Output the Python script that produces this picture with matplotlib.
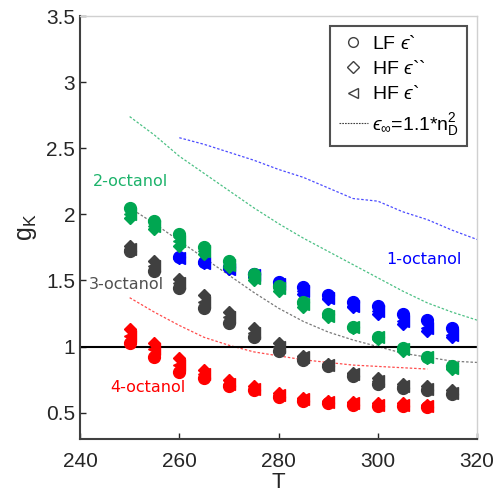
import numpy as np
import matplotlib
matplotlib.use('Agg')
from matplotlib import pyplot as plt
from matplotlib.lines import Line2D

plt.rcParams['font.family'] = ['Liberation Sans', 'DejaVu Sans']
plt.rcParams['mathtext.fontset'] = 'custom'
plt.rcParams['mathtext.rm'] = 'Liberation Sans'
plt.rcParams['mathtext.it'] = 'Liberation Sans:italic'
plt.rcParams['mathtext.fallback'] = 'stixsans'

# temperatures
T_all = [250, 255, 260, 265, 270, 275, 280, 285, 290, 295, 300, 305, 310, 315]
T_1 = T_all[2:]
T_4 = T_all[:13]

# 1-octanol
lf_1 = [1.68, 1.64, 1.60, 1.55, 1.49, 1.45, 1.39, 1.34, 1.31, 1.25, 1.20, 1.14]
hfpp_1 = [1.67, 1.63, 1.59, 1.53, 1.46, 1.40, 1.36, 1.30, 1.25, 1.17, 1.12, 1.07]
hfp_1 = [1.67, 1.63, 1.59, 1.54, 1.47, 1.42, 1.37, 1.31, 1.27, 1.19, 1.14, 1.09]

# 2-octanol
lf_2 = [2.05, 1.95, 1.85, 1.75, 1.65, 1.55, 1.46, 1.34, 1.25, 1.15, 1.07, 0.99, 0.92, 0.85]
hfpp_2 = [1.97, 1.89, 1.76, 1.70, 1.60, 1.50, 1.42, 1.30, 1.22, 1.14, 1.06, 0.97, 0.91, 0.83]
hfp_2 = [2.00, 1.91, 1.80, 1.72, 1.62, 1.52, 1.44, 1.32, 1.23, 1.15, 1.07, 0.98, 0.92, 0.84]

# 3-octanol
lf_3 = [1.72, 1.57, 1.44, 1.29, 1.18, 1.07, 0.97, 0.90, 0.85, 0.78, 0.72, 0.69, 0.67, 0.64]
hfpp_3 = [1.76, 1.65, 1.51, 1.39, 1.26, 1.14, 1.03, 0.93, 0.87, 0.80, 0.76, 0.72, 0.70, 0.67]
hfp_3 = [1.74, 1.61, 1.48, 1.34, 1.22, 1.10, 1.00, 0.92, 0.86, 0.79, 0.74, 0.70, 0.68, 0.65]

# 4-octanol
lf_4 = [1.03, 0.92, 0.81, 0.76, 0.70, 0.67, 0.62, 0.59, 0.57, 0.56, 0.55, 0.55, 0.54]
hfpp_4 = [1.13, 1.03, 0.91, 0.82, 0.75, 0.70, 0.65, 0.61, 0.59, 0.58, 0.57, 0.57, 0.56]
hfp_4 = [1.08, 0.98, 0.86, 0.79, 0.72, 0.68, 0.63, 0.60, 0.58, 0.57, 0.56, 0.56, 0.55]

# eps_inf = 1.1*nD^2 model curves
T_m1 = [260, 265, 270, 275, 280, 285, 290, 295, 300, 305, 310, 315, 320]
m_1 = [2.58, 2.53, 2.47, 2.41, 2.34, 2.28, 2.20, 2.12, 2.10, 2.02, 1.96, 1.88, 1.81]
T_m = [250, 255, 260, 265, 270, 275, 280, 285, 290, 295, 300, 305, 310, 315, 320]
m_2 = [2.74, 2.60, 2.44, 2.31, 2.18, 2.05, 1.93, 1.82, 1.72, 1.62, 1.52, 1.42, 1.33, 1.26, 1.20]
m_3 = [2.05, 1.93, 1.80, 1.67, 1.54, 1.41, 1.29, 1.19, 1.11, 1.05, 1.00, 0.95, 0.92, 0.89, 0.88]
T_m4 = [250, 255, 260, 265, 270, 275, 280, 285, 290, 295, 300, 305, 310]
m_4 = [1.37, 1.26, 1.16, 1.07, 1.01, 0.96, 0.93, 0.90, 0.88, 0.86, 0.85, 0.84, 0.83]

c_blue = '#0000ff'
c_green = '#00a651'
c_gray = '#404040'
c_red = '#ff0000'

fig = plt.figure(figsize=(4.97, 5.03), dpi=100)
ax = fig.add_axes([0.161, 0.127, 0.799, 0.841])

# model lines
dash = (0, (2, 1.5))
ax.plot(T_m1, m_1, ls=dash, color=c_blue, lw=0.9, alpha=0.7)
ax.plot(T_m, m_2, ls=dash, color=c_green, lw=0.9, alpha=0.7)
ax.plot(T_m, m_3, ls=dash, color=c_gray, lw=0.9, alpha=0.7)
ax.plot(T_m4, m_4, ls=dash, color=c_red, lw=0.9, alpha=0.7)

ax.axhline(1, color='k', lw=1.5)

ms = 8.5
series = [
    (T_1, lf_1, hfpp_1, hfp_1, c_blue),
    (T_all, lf_2, hfpp_2, hfp_2, c_green),
    (T_all, lf_3, hfpp_3, hfp_3, c_gray),
    (T_4, lf_4, hfpp_4, hfp_4, c_red),
]
for t, lf, hpp, hp, c in series:
    ax.plot(t, lf, 'o', color=c, ms=ms, mec=c)
    ax.plot(t, hpp, 'D', color=c, ms=ms * 0.75, mec=c)
    ax.plot(t, hp, '<', color=c, ms=ms, mec=c)

# labels
lab_font = dict(family='DejaVu Sans', fontsize=11.5, ha='center', va='center')
ax.text(250.2, 2.25, '2-octanol', color='#1db36b', **lab_font)
ax.text(309.2, 1.66, '1-octanol', color=c_blue, **lab_font)
ax.text(249.4, 1.47, '3-octanol', color='#505050', **lab_font)
ax.text(253.6, 0.69, '4-octanol', color=c_red, **lab_font)

ax.set_xlim(240, 320)
ax.set_ylim(0.3, 3.5)
ax.set_xticks([240, 260, 280, 300, 320])
ax.set_yticks([0.5, 1, 1.5, 2, 2.5, 3, 3.5])
ax.set_yticklabels(['0.5', '1', '1.5', '2', '2.5', '3', '3.5'])
ax.tick_params(direction='in', labelsize=15, colors='#262626', length=4, width=1)
ax.tick_params(axis='x', pad=9)
for s in ['left', 'bottom']:
    ax.spines[s].set_color('#404040')
    ax.spines[s].set_linewidth(1.5)
for s in ['top', 'right']:
    ax.spines[s].set_color('#d0d0d0')
    ax.spines[s].set_linewidth(1)

ax.set_xlabel('T', fontsize=16, color='#262626', labelpad=1)
ax.set_ylabel(r'g$_{\mathrm{K}}$', fontsize=18, color='#262626', labelpad=5)

handles = [
    Line2D([], [], ls='none', marker='o', mfc='w', mec='#404040', ms=7),
    Line2D([], [], ls='none', marker='D', mfc='w', mec='#404040', ms=6),
    Line2D([], [], ls='none', marker='<', mfc='w', mec='#404040', ms=7),
    Line2D([], [], ls=(0, (1.5, 1)), color='#404040', lw=0.8),
]
labels = ['LF $\u03f5$`', 'HF $\u03f5$``', 'HF $\u03f5$`',
          '$\u03f5_{\\infty}$=1.1*n$_\\mathrm{D}^2$']
leg = ax.legend(handles, labels, loc='upper right', fontsize=14, frameon=True,
                fancybox=False, edgecolor='#262626', handlelength=1.5,
                handletextpad=0.2, borderpad=0.45, labelspacing=0.38,
                borderaxespad=0.5)
leg.get_frame().set_linewidth(1.5)

fig.savefig('out.png', dpi=100)
